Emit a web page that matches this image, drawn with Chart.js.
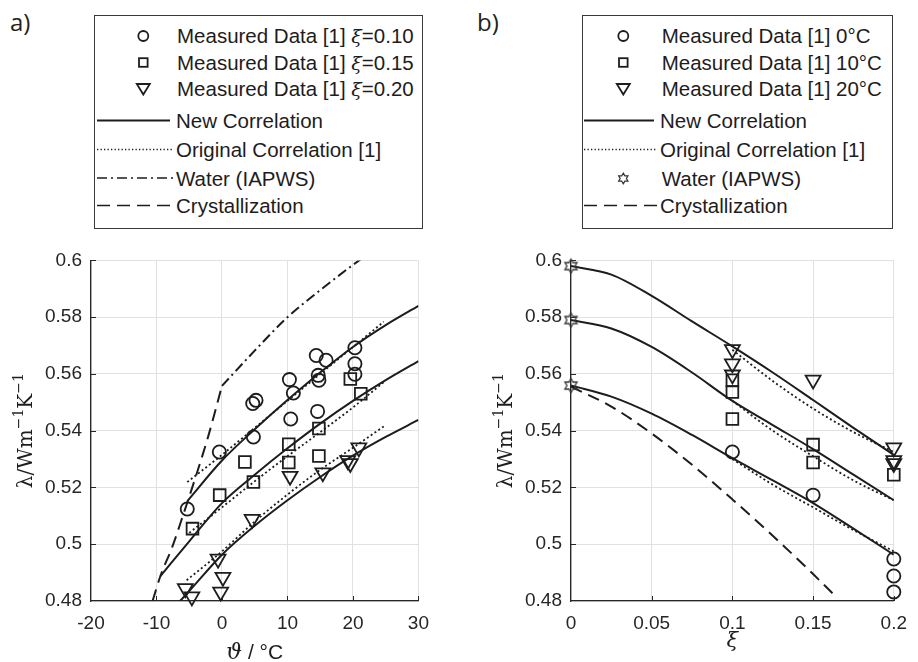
<!DOCTYPE html>
<html>
<head>
<meta charset="utf-8">
<title>Thermal conductivity</title>
<script src="https://cdn.jsdelivr.net/npm/chart.js@4.4.1/dist/chart.umd.min.js"></script>
<style>
  html, body { margin:0; padding:0; background:#ffffff; }
  body { position:relative; width:918px; height:662px; overflow:hidden; }
  canvas.plot { position:absolute; }
  #cA { left:0; top:240px; }
  #cB { left:460px; top:240px; }
  svg.ov { position:absolute; overflow:visible; }
</style>
</head>
<body>
<svg class="ov" style="left:0;top:0" width="918" height="40">
  <text x="10" y="31" font-family="Open Sans, sans-serif" font-size="24" fill="#231f20">a)</text>
  <text x="477" y="31" font-family="Open Sans, sans-serif" font-size="24" fill="#231f20">b)</text>
</svg>
<svg class="ov" id="legA" style="left:94px;top:15px" width="329" height="214"></svg>
<svg class="ov" id="legB" style="left:582px;top:15px" width="311" height="214"></svg>
<canvas class="plot" id="cA" width="440" height="422"></canvas>
<canvas class="plot" id="cB" width="458" height="422"></canvas>
<script>
// ---------------- data: panel a) conductivity vs temperature ----------------
const tempTicks   = [-20, -10, 0, 10, 20, 30];
const lambdaTicks = [0.48, 0.50, 0.52, 0.54, 0.56, 0.58, 0.60];

const measA_xi010_T = [-5.3, -0.4, 4.8, 4.7, 5.2, 10.3, 10.5, 10.9, 14.4, 14.7, 14.8, 14.6, 15.9, 20.3, 20.3, 20.3];
const measA_xi010_L = [0.5124, 0.5325, 0.5378, 0.5496, 0.5507, 0.5580, 0.5441, 0.5533, 0.5665, 0.5595, 0.5578, 0.5468, 0.5648, 0.5692, 0.5636, 0.5599];
const measA_xi015_T = [-4.5, -0.35, 3.5, 4.8, 10.2, 10.2, 14.8, 14.8, 19.6, 21.2];
const measA_xi015_L = [0.5055, 0.5173, 0.5290, 0.5219, 0.5352, 0.5288, 0.5408, 0.5311, 0.5582, 0.5530];
const measA_xi020_T = [-5.6, -4.6, -0.6, 0.15, -0.2, 4.6, 10.4, 15.4, 19.2, 19.6, 20.9];
const measA_xi020_L = [0.4844, 0.4815, 0.4948, 0.4884, 0.4832, 0.5088, 0.5240, 0.5252, 0.5295, 0.5285, 0.5340];

const newA_xi010_T = [-5.3, 0, 5, 10, 15, 20, 25, 30];
const newA_xi010_L = [0.5152, 0.5295, 0.5405, 0.5508, 0.5605, 0.5695, 0.5772, 0.5840];
const newA_xi015_T = [-9.4, -5, 0, 5, 10, 15, 20, 25, 30];
const newA_xi015_L = [0.4888, 0.5010, 0.5145, 0.5245, 0.5338, 0.5425, 0.5505, 0.5578, 0.5645];
const newA_xi020_T = [-6.4, -5, 0, 5, 10, 15, 20, 25, 30];
const newA_xi020_L = [0.4800, 0.4835, 0.4963, 0.5065, 0.5155, 0.5237, 0.5312, 0.5378, 0.5438];

const origA_xi010_T = [-5.3, 0, 5, 10, 15, 20, 24.7];
const origA_xi010_L = [0.5219, 0.5315, 0.5410, 0.5505, 0.5600, 0.5695, 0.5784];
const origA_xi015_T = [-5, 0, 5, 10, 15, 20, 24.7];
const origA_xi015_L = [0.5040, 0.5130, 0.5222, 0.5310, 0.5395, 0.5482, 0.5571];
const origA_xi020_T = [-5.4, 0, 5, 10, 15, 20, 24.7];
const origA_xi020_L = [0.4873, 0.4975, 0.5080, 0.5175, 0.5262, 0.5340, 0.5415];

const waterA_T = [0, 5, 10, 15, 20, 25, 30];
const waterA_L = [0.5558, 0.5682, 0.5800, 0.5895, 0.5984, 0.6065, 0.6131];
const crystA_T = [-10.6, -9.4, -7.6, -5.9, -4.4, -2.1, 0];
const crystA_L = [0.4800, 0.4888, 0.4990, 0.5105, 0.5210, 0.5380, 0.5558];

// ---------------- data: panel b) conductivity vs mass fraction ----------------
const xiTicks = [0, 0.05, 0.10, 0.15, 0.20];

const measB_0C_Xi  = [0.10, 0.15, 0.20, 0.20, 0.20];
const measB_0C_L   = [0.5325, 0.5173, 0.4948, 0.4888, 0.4832];
const measB_10C_Xi = [0.10, 0.10, 0.10, 0.15, 0.15, 0.20];
const measB_10C_L  = [0.5578, 0.5536, 0.5441, 0.5351, 0.5288, 0.5245];
const measB_20C_Xi = [0.10, 0.10, 0.10, 0.15, 0.20, 0.20, 0.20];
const measB_20C_L  = [0.5686, 0.5636, 0.5597, 0.5579, 0.5340, 0.5295, 0.5285];
const waterB_Xi = [0, 0, 0];
const waterB_L  = [0.5980, 0.5790, 0.5559];

const corrB_Xi = [0, 0.025, 0.05, 0.075, 0.10, 0.125, 0.15, 0.175, 0.20];
const newB_0C  = [0.5559, 0.5520, 0.5460, 0.5385, 0.5303, 0.5225, 0.5145, 0.5055, 0.4963];
const newB_10C = [0.5790, 0.5760, 0.5695, 0.5605, 0.5505, 0.5420, 0.5335, 0.5245, 0.5155];
const newB_20C = [0.5980, 0.5950, 0.5875, 0.5785, 0.5697, 0.5605, 0.5508, 0.5410, 0.5315];
const origB_Xi  = [0.10, 0.125, 0.15, 0.175, 0.20];
const origB_0C  = [0.5300, 0.5210, 0.5130, 0.5050, 0.4975];
const origB_10C = [0.5505, 0.5400, 0.5310, 0.5225, 0.5155];
const origB_20C = [0.5685, 0.5575, 0.5478, 0.5395, 0.5325];
const crystB_Xi = [0, 0.025, 0.05, 0.075, 0.10, 0.125, 0.15, 0.165];
const crystB_L  = [0.5555, 0.5485, 0.5390, 0.5280, 0.5158, 0.5030, 0.4895, 0.4810];

// ---------------- legends ----------------
const legendA = ['Measured Data [1] ξ=0.10', 'Measured Data [1] ξ=0.15', 'Measured Data [1] ξ=0.20',
                 'New Correlation', 'Original Correlation [1]', 'Water (IAPWS)', 'Crystallization'];
const legendB = ['Measured Data [1] 0°C', 'Measured Data [1] 10°C', 'Measured Data [1] 20°C',
                 'New Correlation', 'Original Correlation [1]', 'Water (IAPWS)', 'Crystallization'];
const legendKindsA = ['circle', 'square', 'triangle', 'solid', 'dotted', 'dashdot', 'dashed'];
const legendKindsB = ['circle', 'square', 'triangle', 'solid', 'dotted', 'hexagram', 'dashed'];

// ---------------- styling ----------------
const DARK = '#1e1c1d';
const AXIS = '#262626';
const GRID = '#e1e1e1';
const DASH_SOLID = [], DASH_DOT = [2, 2.6], DASH_DASH = [12, 7], DASH_DASHDOT = [10, 4, 2, 4];

function mkCanvas(w, h, draw) {
  const c = document.createElement('canvas');
  c.width = w; c.height = h;
  draw(c.getContext('2d'));
  return c;
}
const imgHexagram = mkCanvas(19, 19, g => {
  g.strokeStyle = '#333'; g.lineWidth = 1.3;
  const R = 7, r = R / Math.sqrt(3);
  g.beginPath();
  for (let k = 0; k < 12; k++) {
    const ang = -Math.PI / 2 + k * Math.PI / 6;
    const rad = k % 2 === 0 ? R : r;
    const px = 9.5 + rad * Math.cos(ang), py = 9.5 + rad * Math.sin(ang);
    if (k === 0) g.moveTo(px, py); else g.lineTo(px, py);
  }
  g.closePath(); g.stroke();
});

const pts = (xs, ys) => xs.map((v, i) => ({ x: v, y: ys[i] }));
const markerDS = (xs, ys, style, radius, rot) => ({ data: pts(xs, ys), showLine: false, pointStyle: style,
  pointRadius: radius, pointHoverRadius: radius, pointRotation: rot || 0, pointBorderWidth: 1.8,
  pointBorderColor: DARK, pointBackgroundColor: 'rgba(0,0,0,0)', clip: false, order: 0 });
const curveDS = (xs, ys, dash) => ({ data: pts(xs, ys), showLine: true, pointRadius: 0, pointHoverRadius: 0,
  borderColor: DARK, borderWidth: dash === DASH_DOT ? 1.8 : 2, borderDash: dash, cubicInterpolationMode: 'monotone',
  fill: false, clip: 0, order: 1 });

const fmt = v => String(Math.round(v * 1000) / 1000);

function makeTitlePlugin(spec) {
  return {
    id: 'axisTitleParts',
    afterDraw(chart) {
      const ctx = chart.ctx, a = chart.chartArea;
      ctx.save();
      ctx.fillStyle = DARK; ctx.textBaseline = 'alphabetic'; ctx.textAlign = 'left';
      const run = (parts, cx, by) => {
        let w = 0;
        parts.forEach(p => { ctx.font = p.font; w += ctx.measureText(p.text).width; });
        let x = cx - w / 2;
        parts.forEach(p => { ctx.font = p.font; ctx.fillText(p.text, x, by + (p.dy || 0)); x += ctx.measureText(p.text).width; });
      };
      run(spec.x, (a.left + a.right) / 2, a.bottom + spec.xGap);
      ctx.translate(a.left - spec.yGap, (a.top + a.bottom) / 2);
      ctx.rotate(-Math.PI / 2);
      run(spec.y, 0, 0);
      ctx.restore();
    }
  };
}
const innerTicks = {
  id: 'innerTicks',
  beforeDatasetsDraw(chart) {
    const { ctx, chartArea: a } = chart;
    const xs = chart.scales.x, ys = chart.scales.y;
    ctx.save(); ctx.strokeStyle = AXIS; ctx.lineWidth = 1; ctx.beginPath();
    xs.ticks.forEach(t => { const px = Math.round(xs.getPixelForValue(t.value)) + 0.5;
      if (px > a.left + 2) { ctx.moveTo(px, a.bottom); ctx.lineTo(px, a.bottom - 5); } });
    ys.ticks.forEach(t => { const py = Math.round(ys.getPixelForValue(t.value)) + 0.5;
      if (py < a.bottom - 2) { ctx.moveTo(a.left, py); ctx.lineTo(a.left + 5, py); } });
    ctx.stroke(); ctx.restore();
  }
};

const yTitle = [
  { text: 'λ/Wm', font: '20px "DejaVu Serif"' },
  { text: '−1', font: '14px "DejaVu Serif"', dy: -8.5 },
  { text: 'K', font: '20px "DejaVu Serif"' },
  { text: '−1', font: '14px "DejaVu Serif"', dy: -8.5 }
];

function scalesFor(xMin, xMax, xTickVals, yWidth) {
  const tickFont = { family: '"Liberation Sans", Arial, sans-serif', size: 19 };
  return {
    x: {
      type: 'linear', min: xMin, max: xMax,
      afterBuildTicks: s => { s.ticks = xTickVals.map(v => ({ value: v })); },
      afterFit: s => { s.height = 61; },
      ticks: { padding: 11, color: AXIS, font: tickFont, maxRotation: 0, autoSkip: false, callback: v => fmt(v) },
      grid: { color: GRID, lineWidth: 1, drawTicks: false },
      border: { display: true, color: AXIS, width: 1.3 }
    },
    y: {
      type: 'linear', min: 0.48, max: 0.6,
      afterBuildTicks: s => { s.ticks = lambdaTicks.map(v => ({ value: v })); },
      afterFit: s => { s.width = yWidth; },
      ticks: { padding: 9, color: AXIS, font: tickFont, autoSkip: false, callback: v => fmt(v) },
      grid: { color: GRID, lineWidth: 1, drawTicks: false },
      border: { display: true, color: AXIS, width: 1.3 }
    }
  };
}

const baseOpts = (xMin, xMax, xTickVals, yWidth, padRight) => ({
  responsive: false, animation: false, devicePixelRatio: 1, events: [],
  layout: { padding: { top: 14, right: padRight, left: 0, bottom: 0 } },
  plugins: { legend: { display: false }, tooltip: { enabled: false } },
  scales: scalesFor(xMin, xMax, xTickVals, yWidth)
});

new Chart(document.getElementById('cA'), {
  type: 'scatter',
  data: { datasets: [
    markerDS(measA_xi010_T, measA_xi010_L, 'circle', 6.6),
    markerDS(measA_xi015_T, measA_xi015_L, 'rect', 8.3),
    markerDS(measA_xi020_T, measA_xi020_L, 'triangle', 8.6, 180),
    curveDS(newA_xi010_T, newA_xi010_L, DASH_SOLID),
    curveDS(newA_xi015_T, newA_xi015_L, DASH_SOLID),
    curveDS(newA_xi020_T, newA_xi020_L, DASH_SOLID),
    curveDS(origA_xi010_T, origA_xi010_L, DASH_DOT),
    curveDS(origA_xi015_T, origA_xi015_L, DASH_DOT),
    curveDS(origA_xi020_T, origA_xi020_L, DASH_DOT),
    curveDS(waterA_T, waterA_L, DASH_DASHDOT),
    curveDS(crystA_T, crystA_L, DASH_DASH)
  ] },
  options: baseOpts(-20, 30, tempTicks, 91, 16),
  plugins: [innerTicks, makeTitlePlugin({
    x: [{ text: 'ϑ', font: 'italic 22px "DejaVu Serif"' }, { text: ' / °C', font: '21px "Liberation Sans"' }],
    xGap: 58, y: yTitle, yGap: 59.3 })]
});

new Chart(document.getElementById('cB'), {
  type: 'scatter',
  data: { datasets: [
    markerDS(measB_0C_Xi, measB_0C_L, 'circle', 6.6),
    markerDS(measB_10C_Xi, measB_10C_L, 'rect', 8.3),
    markerDS(measB_20C_Xi, measB_20C_L, 'triangle', 8.6, 180),
    markerDS(waterB_Xi, waterB_L, imgHexagram, 7),
    curveDS(corrB_Xi, newB_0C, DASH_SOLID),
    curveDS(corrB_Xi, newB_10C, DASH_SOLID),
    curveDS(corrB_Xi, newB_20C, DASH_SOLID),
    curveDS(origB_Xi, origB_0C, DASH_DOT),
    curveDS(origB_Xi, origB_10C, DASH_DOT),
    curveDS(origB_Xi, origB_20C, DASH_DOT),
    curveDS(crystB_Xi, crystB_L, DASH_DASH)
  ] },
  options: baseOpts(0, 0.2, xiTicks, 111, 15),
  plugins: [innerTicks, makeTitlePlugin({
    x: [{ text: 'ξ', font: 'italic 21px "DejaVu Serif"' }],
    xGap: 46, y: yTitle, yGap: 59.3 })]
});

// ---------------- SVG legends ----------------
function esc(s) { return s.replace(/&/g, '&amp;').replace(/</g, '&lt;'); }
function labelMarkup(s) {
  return esc(s).split('ξ').join('<tspan font-family="DejaVu Serif" font-style="italic" font-size="19">ξ</tspan>');
}
function symbol(kind, mx, y, lx0, lx1) {
  const st = 'fill="none" stroke="' + DARK + '"';
  switch (kind) {
    case 'circle': return `<circle cx="${mx}" cy="${y}" r="5" ${st} stroke-width="1.8"/>`;
    case 'square': return `<rect x="${mx - 4.3}" y="${y - 4.3}" width="8.6" height="8.6" ${st} stroke-width="1.8"/>`;
    case 'triangle': return `<path d="M${mx - 6.5},${y - 5} L${mx + 6.5},${y - 5} L${mx},${y + 5.5} Z" ${st} stroke-width="1.8"/>`;
    case 'hexagram': {
      const R = 5.4, r = R / Math.sqrt(3); let d = '';
      for (let k = 0; k < 12; k++) { const a = -Math.PI / 2 + k * Math.PI / 6, rr = k % 2 ? r : R;
        d += (k ? 'L' : 'M') + (mx + rr * Math.cos(a)).toFixed(2) + ',' + (y + rr * Math.sin(a)).toFixed(2); }
      return `<path d="${d}Z" fill="none" stroke="#333" stroke-width="1.2"/>`;
    }
    case 'solid': return `<line x1="${lx0}" y1="${y}" x2="${lx1}" y2="${y}" stroke="${DARK}" stroke-width="1.8"/>`;
    case 'dotted': return `<line x1="${lx0}" y1="${y}" x2="${lx1 + 3}" y2="${y}" stroke="${DARK}" stroke-width="1.4" stroke-dasharray="1.3 2.2"/>`;
    case 'dashdot': return `<line x1="${lx0}" y1="${y}" x2="${lx1 + 4}" y2="${y}" stroke="${DARK}" stroke-width="1.7" stroke-dasharray="10 4 2 4"/>`;
    case 'dashed': return `<line x1="${lx0}" y1="${y}" x2="${lx1 + 4}" y2="${y}" stroke="${DARK}" stroke-width="1.7" stroke-dasharray="13 7"/>`;
  }
  return '';
}
function buildLegend(id, labels, kinds, w, h, mx, txMarker, txLine, lx0, lx1) {
  const baselines = [28, 54.5, 81, 113, 142, 170.5, 198];
  let s = `<rect x="0.5" y="0.5" width="${w - 1}" height="${h - 1}" fill="#ffffff" stroke="#3a3a3a" stroke-width="1"/>`;
  labels.forEach((lab, i) => {
    const b = baselines[i];
    const isLine = ['solid', 'dotted', 'dashdot', 'dashed'].includes(kinds[i]);
    const symY = isLine ? b - 7.5 : b - 7;
    s += symbol(kinds[i], mx, symY, lx0, lx1);
    s += `<text x="${isLine ? txLine : txMarker}" y="${b}" font-family="Liberation Sans, Arial, sans-serif" font-size="20.5" fill="${DARK}">${labelMarkup(lab)}</text>`;
  });
  document.getElementById(id).innerHTML = s;
}
buildLegend('legA', legendA, legendKindsA, 329, 214, 49.3, 83, 82, 3, 76);
buildLegend('legB', legendB, legendKindsB, 311, 214, 41.3, 79.7, 78, 2, 72);
</script>
</body>
</html>
